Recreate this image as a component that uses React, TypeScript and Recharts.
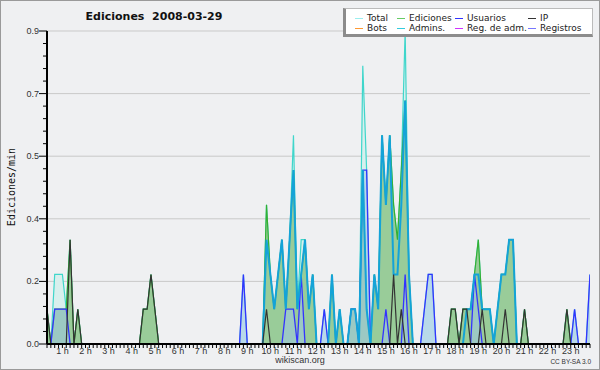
import { ComposedChart, Area, Line, XAxis, YAxis, CartesianGrid } from 'recharts'

// 10-minute slots, 6 per hour (0:00 .. 23:50)
const SLOTS = Array.from({ length: 144 }, (_, i) => i)

const TOTAL = [
  0, 0, 0.1, 0, 0.2, 0.2,
  0.2, 0.1, 0.3, 0, 0.1, 0,
  0, 0, 0, 0, 0, 0,
  0, 0, 0, 0, 0, 0,
  0, 0, 0, 0.1, 0.1, 0.2,
  0.1, 0, 0, 0, 0, 0,
  0, 0, 0, 0, 0, 0,
  0, 0, 0, 0, 0, 0,
  0, 0, 0, 0, 0, 0.2,
  0, 0, 0, 0, 0, 0.4,
  0.2, 0.1, 0.2, 0.3, 0.1, 0.3,
  0.6, 0.1, 0.3, 0.3, 0.1, 0.2,
  0, 0, 0.1, 0, 0.2, 0,
  0.1, 0, 0, 0.1, 0.1, 0,
  0.8, 0.5, 0, 0.2, 0.1, 0.6,
  0.4, 0.6, 0.4, 0.3, 0.5, 0.9,
  0.2, 0, 0, 0, 0.1, 0.2,
  0.2, 0, 0, 0, 0, 0.1,
  0.1, 0, 0.1, 0.1, 0.1, 0.2,
  0.3, 0.1, 0.1, 0.1, 0, 0.1,
  0.2, 0.2, 0.3, 0.3, 0, 0,
  0.1, 0, 0, 0, 0, 0,
  0, 0, 0, 0, 0, 0.1,
  0, 0.1, 0, 0, 0, 0.2,
]

const EDICIONES = [
  0, 0, 0.1, 0, 0.1, 0.1,
  0.1, 0.1, 0.3, 0, 0.1, 0,
  0, 0, 0, 0, 0, 0,
  0, 0, 0, 0, 0, 0,
  0, 0, 0, 0.1, 0.1, 0.2,
  0.1, 0, 0, 0, 0, 0,
  0, 0, 0, 0, 0, 0,
  0, 0, 0, 0, 0, 0,
  0, 0, 0, 0, 0, 0,
  0, 0, 0, 0, 0, 0.4,
  0.2, 0.1, 0.2, 0.3, 0.1, 0.3,
  0.5, 0.1, 0.2, 0.3, 0.1, 0.2,
  0, 0, 0, 0, 0.2, 0,
  0.1, 0, 0, 0.1, 0.1, 0,
  0.5, 0.1, 0, 0.2, 0.1, 0.6,
  0.4, 0.6, 0.4, 0.3, 0.5, 0.7,
  0.2, 0, 0, 0, 0, 0,
  0, 0, 0, 0, 0, 0.1,
  0.1, 0, 0.1, 0.1, 0.1, 0.2,
  0.3, 0.1, 0.1, 0.1, 0, 0.1,
  0.2, 0.2, 0.3, 0.3, 0, 0,
  0.1, 0, 0, 0, 0, 0,
  0, 0, 0, 0, 0, 0.1,
  0, 0, 0, 0, 0, 0,
]

const USUARIOS = [
  0, 0, 0, 0, 0.1, 0.1,
  0.1, 0.1, 0, 0, 0, 0,
  0, 0, 0, 0, 0, 0,
  0, 0, 0, 0, 0, 0,
  0, 0, 0, 0, 0, 0,
  0, 0, 0, 0, 0, 0,
  0, 0, 0, 0, 0, 0,
  0, 0, 0, 0, 0, 0,
  0, 0, 0, 0, 0, 0.2,
  0, 0, 0, 0, 0, 0,
  0, 0, 0, 0, 0.1, 0.1,
  0.1, 0, 0.2, 0, 0, 0,
  0, 0, 0.1, 0, 0, 0,
  0, 0, 0, 0.1, 0.1, 0,
  0.5, 0.5, 0, 0, 0, 0,
  0.1, 0, 0, 0, 0, 0.2,
  0, 0, 0, 0, 0.1, 0.2,
  0.2, 0, 0, 0, 0, 0,
  0, 0, 0, 0, 0, 0.2,
  0.1, 0, 0, 0, 0, 0,
  0, 0, 0, 0, 0, 0,
  0, 0, 0, 0, 0, 0,
  0, 0, 0, 0, 0, 0,
  0, 0.1, 0, 0, 0, 0.2,
]

const IP = [
  0, 0, 0.1, 0, 0, 0,
  0, 0, 0.3, 0, 0.1, 0,
  0, 0, 0, 0, 0, 0,
  0, 0, 0, 0, 0, 0,
  0, 0, 0, 0.1, 0.1, 0.2,
  0.1, 0, 0, 0, 0, 0,
  0, 0, 0, 0, 0, 0,
  0, 0, 0, 0, 0, 0,
  0, 0, 0, 0, 0, 0,
  0, 0, 0, 0, 0, 0.1,
  0, 0, 0, 0, 0, 0,
  0, 0, 0, 0, 0, 0,
  0, 0, 0, 0, 0, 0,
  0, 0, 0, 0, 0, 0,
  0, 0, 0, 0, 0, 0,
  0, 0, 0.2, 0, 0.1, 0,
  0, 0, 0, 0, 0, 0,
  0, 0, 0, 0, 0, 0.1,
  0.1, 0, 0.1, 0.1, 0, 0,
  0, 0.1, 0, 0, 0, 0,
  0, 0.1, 0, 0, 0, 0,
  0.1, 0, 0, 0, 0, 0,
  0, 0, 0, 0, 0, 0.1,
  0, 0, 0, 0, 0, 0,
]

const ADMINS = [
  0, 0, 0, 0, 0, 0,
  0, 0, 0, 0, 0, 0,
  0, 0, 0, 0, 0, 0,
  0, 0, 0, 0, 0, 0,
  0, 0, 0, 0, 0, 0,
  0, 0, 0, 0, 0, 0,
  0, 0, 0, 0, 0, 0,
  0, 0, 0, 0, 0, 0,
  0, 0, 0, 0, 0, 0,
  0, 0, 0, 0, 0, 0.3,
  0.2, 0.1, 0.2, 0.3, 0.1, 0.3,
  0.5, 0.1, 0.2, 0.3, 0.1, 0.2,
  0, 0, 0, 0, 0.2, 0,
  0.1, 0, 0, 0.1, 0.1, 0,
  0.5, 0.1, 0, 0.2, 0.1, 0.6,
  0.4, 0.6, 0.2, 0.2, 0.4, 0.7,
  0.2, 0, 0, 0, 0, 0,
  0, 0, 0, 0, 0, 0,
  0, 0, 0, 0.1, 0.1, 0.2,
  0.2, 0.1, 0.1, 0.1, 0, 0.1,
  0.2, 0.2, 0.3, 0.3, 0, 0,
  0, 0, 0, 0, 0, 0,
  0, 0, 0, 0, 0, 0,
  0, 0, 0, 0, 0, 0,
]

const HOURS = [1, 2, 3, 4, 5, 6, 7, 8, 9, 10, 11, 12, 13, 14, 15, 16, 17, 18, 19, 20, 21, 22, 23]
const Y_MAJOR = [0, 0.18, 0.36, 0.54, 0.72, 0.9]
const Y_STEP = 0.036

const LEGEND = [
  [{ name: 'Total', color: '#9beeee' }, { name: 'Bots', color: '#ff9933' }],
  [{ name: 'Ediciones', color: '#66cc66' }, { name: 'Admins.', color: '#33ccdd' }],
  [{ name: 'Usuarios', color: '#3333ff' }, { name: 'Reg. de adm.', color: '#cc33ff' }],
  [{ name: 'IP', color: '#333333' }, { name: 'Registros', color: '#7777ff' }],
]
const LEGEND_X = [355, 397, 455, 528]

const data = SLOTS.map((s, i) => ({
  slot: s,
  total: TOTAL[i],
  ediciones: EDICIONES[i],
  usuarios: USUARIOS[i],
  ip: IP[i],
  admins: ADMINS[i],
}))

const xTicks = SLOTS.filter((s) => s >= 2)
const yTicks = Array.from({ length: 26 }, (_, i) => i * Y_STEP)

const tickFont = { fontFamily: '"Liberation Sans", Arial, sans-serif', fontSize: 9, fill: '#333' }

function XTick(props: any) {
  const { x, y, payload } = props
  const h = payload.value / 6
  return (
    <g>
      <line x1={x} x2={x} y1={y} y2={y + 4} stroke="#000" />
      {HOURS.includes(h) && (
        <text x={x} y={y + 10} textAnchor="middle" {...tickFont}>{`${h} h`}</text>
      )}
    </g>
  )
}

function YTick(props: any) {
  const { x, y, payload } = props
  const major = Math.round(payload.value / Y_STEP) % 5 === 0
  return (
    <g>
      <line x1={x - (major ? 8 : 4)} x2={x} y1={y} y2={y} stroke="#000" />
      {major && (
        <text x={x - 8} y={y + 3} textAnchor="end" {...tickFont}>{payload.value.toFixed(1)}</text>
      )}
    </g>
  )
}

const abs = (style: React.CSSProperties): React.CSSProperties => ({ position: 'absolute', ...style })

export default function App() {
  return (
    <div style={abs({ left: 0, top: 0, width: 600, height: 370, background: '#eff0f2', overflow: 'hidden' })}>
      <div style={abs({ left: 0, top: 0 })}>
        <ComposedChart width={600} height={370} data={data} margin={{ top: 31, right: 10, bottom: 0, left: 0 }}>
          <CartesianGrid vertical={false} horizontalValues={Y_MAJOR.slice(1)} stroke="#c9c9c9" />
          <Area type="linear" dataKey="total" stroke="#3fd6cb" strokeWidth={1.2} fill="#d8efed" fillOpacity={1} isAnimationActive={false} dot={false} activeDot={false} />
          <Area type="linear" dataKey="ediciones" stroke="#33b033" strokeWidth={1.2} fill="#99cc99" fillOpacity={1} isAnimationActive={false} dot={false} activeDot={false} />
          <Area type="linear" dataKey="usuarios" stroke="#3333ff" strokeWidth={1.3} fill="#9ec6e6" fillOpacity={0.55} isAnimationActive={false} dot={false} activeDot={false} />
          <Line type="linear" dataKey="admins" stroke="#14a3d8" strokeWidth={2} isAnimationActive={false} dot={false} activeDot={false} />
          <Line type="linear" dataKey="ip" stroke="#333333" strokeWidth={1.2} isAnimationActive={false} dot={false} activeDot={false} />
          <XAxis
            type="number"
            dataKey="slot"
            domain={[2, 143]}
            allowDataOverflow
            ticks={xTicks}
            interval={0}
            tickLine={false}
            tickSize={0}
            tickMargin={0}
            axisLine={{ stroke: '#000', strokeWidth: 2 }}
            tick={<XTick />}
            height={26}
          />
          <YAxis
            type="number"
            domain={[0, 0.9]}
            allowDataOverflow
            ticks={yTicks}
            interval={0}
            tickLine={false}
            tickSize={0}
            tickMargin={0}
            axisLine={{ stroke: '#000', strokeWidth: 2 }}
            tick={<YTick />}
            width={47}
          />
        </ComposedChart>
      </div>

      <div style={abs({ left: 0, top: 11, width: 308, textAlign: 'center', whiteSpace: 'pre', fontFamily: '"DejaVu Sans", sans-serif', fontWeight: 'bold', fontSize: 11, lineHeight: '12px', color: '#111' })}>
        {'Ediciones  2008-03-29'}
      </div>

      <div style={abs({ left: 11, top: 187, transform: 'translate(-50%, -50%) rotate(-90deg)', whiteSpace: 'nowrap', fontFamily: '"DejaVu Sans Mono", monospace', fontSize: 10, color: '#111' })}>
        Ediciones/min
      </div>

      <div style={abs({ left: 200, top: 355, width: 200, textAlign: 'center', fontFamily: '"Liberation Sans", Arial, sans-serif', fontSize: 9, color: '#333' })}>
        wikiscan.org
      </div>
      <div style={abs({ left: 540, top: 358, width: 51, textAlign: 'right', fontFamily: '"Liberation Sans", Arial, sans-serif', fontSize: 6.5, color: '#333' })}>
        CC BY-SA 3.0
      </div>

      <div style={abs({ left: 343, top: 8, width: 250, height: 29, background: '#fff', borderLeft: '3px solid #8c8c8c', borderBottom: '3px solid #8c8c8c', borderTop: '1px solid #bbb', borderRight: '1px solid #bbb', boxSizing: 'border-box' })} />
      {LEGEND.map((col, c) =>
        col.map((item, r) => (
          <div key={item.name} style={abs({ left: LEGEND_X[c], top: 13 + r * 10, height: 10, display: 'flex', alignItems: 'center', fontFamily: '"DejaVu Sans", sans-serif', fontSize: 9, color: '#222', whiteSpace: 'nowrap' })}>
            <span style={{ display: 'inline-block', width: 8, height: 1, background: item.color, marginRight: 4 }} />
            {item.name}
          </div>
        ))
      )}

      <div style={abs({ left: 0, top: 0, width: 600, height: 370, border: '1px solid #9a9a9a', boxSizing: 'border-box', pointerEvents: 'none' })} />
    </div>
  )
}
